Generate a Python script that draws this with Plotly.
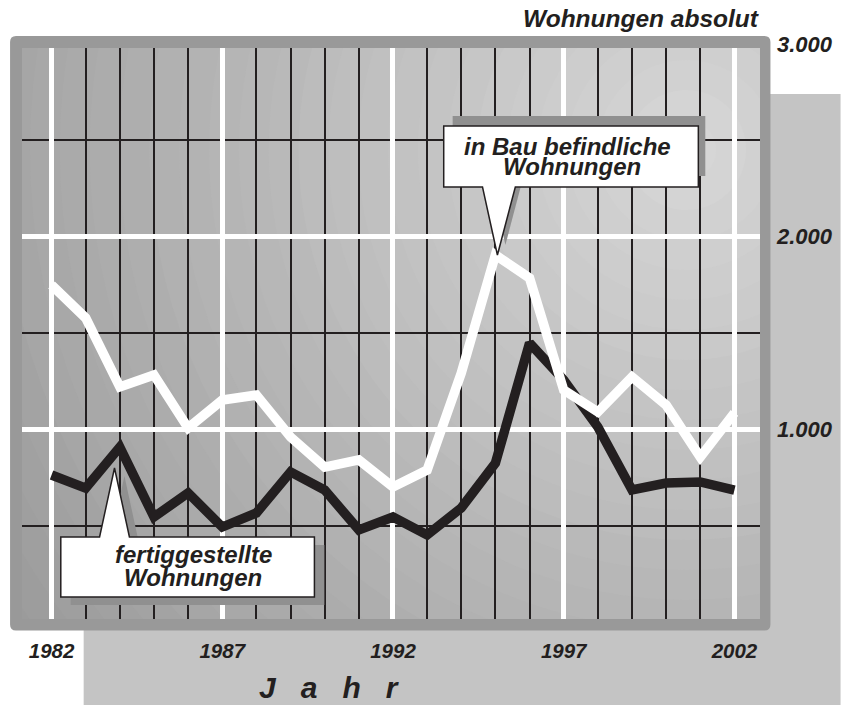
import plotly.graph_objects as go

# ---------------- data ----------------
years = list(range(1982, 2003))
in_bau = [1749, 1578, 1220, 1282, 1007, 1152, 1178, 960, 804, 841, 701,
          789, 1292, 1905, 1785, 1204, 1090, 1272, 1126, 856, 1085]
fertig = [763, 695, 908, 545, 670, 493, 566, 779, 685, 478, 545,
          452, 592, 825, 1448, 1256, 1012, 685, 721, 727, 685]
x_tick_vals = [1982, 1987, 1992, 1997, 2002]
x_tick_text = ["1982", "1987", "1992", "1997", "2002"]
y_tick_vals = [1000, 2000, 3000]
y_tick_text = ["1.000", "2.000", "3.000"]
y_minor_vals = [500, 1500, 2500]
label_bau = ["in Bau befindliche", "Wohnungen"]
label_fertig = ["fertiggestellte", "Wohnungen"]
y_title = "Wohnungen absolut"
x_title = "J\u00a0\u00a0\u00a0a\u00a0\u00a0\u00a0h\u00a0\u00a0\u00a0r"

# ---------------- layout geometry ----------------
W, H = 845, 705
L, R, T, B = 22, 81, 44, 83
PW, PH = W - L - R, H - T - B
X_RANGE = [1981.135, 2002.749]
Y_RANGE = [0, 3000]
FONT = "Liberation Sans, Arial, Helvetica, sans-serif"
INK = "#231f20"


def P(px, py):
    return f"{(px - L) / PW:.5f},{(T + PH - py) / PH:.5f}"


def path(points):
    return "M" + " L".join(P(x, y) for x, y in points) + " Z"


fig = go.Figure()

fig.add_trace(go.Scatter(x=years, y=fertig, mode="lines",
                         line=dict(color=INK, width=9.5), hoverinfo="skip",
                         showlegend=False))
fig.add_trace(go.Scatter(x=years, y=in_bau, mode="lines",
                         line=dict(color="#ffffff", width=9.5), hoverinfo="skip",
                         showlegend=False))

shapes = []
# shadow block behind the frame
shapes.append(dict(type="path", xref="paper", yref="paper", layer="below",
                   path=path([(84, 94), (845, 94), (845, 705), (84, 705)]),
                   fillcolor="#c4c4c4", line=dict(width=0)))

# radial-ish background gradient inside the plot area (decoration)
px_per_x = PW / (X_RANGE[1] - X_RANGE[0])
px_per_y = PH / (Y_RANGE[1] - Y_RANGE[0])
cx = X_RANGE[0] + (690 - L) / px_per_x
cy = Y_RANGE[0] + (T + PH - 150) / px_per_y
for r in range(840, 0, -30):
    g = int(round(max(150, 216 - 0.073 * r)))
    shapes.append(dict(type="circle", xref="x", yref="y", layer="below",
                       x0=cx - r / px_per_x, x1=cx + r / px_per_x,
                       y0=cy - r / px_per_y, y1=cy + r / px_per_y,
                       fillcolor=f"rgb({g},{g},{g})", line=dict(width=0)))

# frame (rounded outer, rectangular inner hole)
frame = (f"M{P(16,36)} L{P(768.5,36)} Q{P(774.5,36)} {P(774.5,42)} "
         f"L{P(774.5,624.5)} Q{P(774.5,630.5)} {P(768.5,630.5)} "
         f"L{P(16,630.5)} Q{P(10,630.5)} {P(10,624.5)} "
         f"L{P(10,42)} Q{P(10,36)} {P(16,36)} Z "
         f"M{P(22,48)} L{P(764,48)} L{P(764,619)} L{P(22,619)} Z")
shapes.append(dict(type="path", xref="paper", yref="paper", layer="above",
                   path=frame, fillcolor="#999999", fillrule="evenodd",
                   line=dict(width=0)))

# callout 1 (in Bau befindliche Wohnungen)
SH = "#909090"
shapes.append(dict(type="path", xref="paper", yref="paper", layer="above",
                   path=path([(455, 116), (709, 116), (709, 176), (455, 176)]),
                   fillcolor=SH, line=dict(width=0)))
shapes.append(dict(type="path", xref="paper", yref="paper", layer="above",
                   path=path([(493, 177), (526, 177), (508, 245)]),
                   fillcolor=SH, line=dict(width=0)))
shapes.append(dict(type="path", xref="paper", yref="paper", layer="above",
                   path=path([(446, 126), (702, 126), (702, 187), (518, 187),
                              (500, 255), (485, 187), (446, 187)]),
                   fillcolor="#ffffff", line=dict(color=INK, width=1.5)))

# callout 2 (fertiggestellte Wohnungen)
shapes.append(dict(type="path", xref="paper", yref="paper", layer="above",
                   path=path([(71, 545), (326, 545), (326, 605), (71, 605)]),
                   fillcolor=SH, line=dict(width=0)))
shapes.append(dict(type="path", xref="paper", yref="paper", layer="above",
                   path=path([(110, 545), (125, 476), (140, 545)]),
                   fillcolor=SH, line=dict(width=0)))
shapes.append(dict(type="path", xref="paper", yref="paper", layer="above",
                   path=path([(61, 537), (100, 537), (115, 468), (130, 537),
                              (316, 537), (316, 597), (61, 597)]),
                   fillcolor="#ffffff", line=dict(color=INK, width=1.5)))


def ann(text, px, py, size, xanchor="center"):
    xp = (px - L) / PW
    yp = (T + PH - py) / PH
    return dict(text=text, x=xp, y=yp, xref="paper", yref="paper",
                xanchor=xanchor, yanchor="middle", showarrow=False,
                font=dict(family=FONT, size=size, color=INK,
                          weight="bold", style="italic"))


annotations = [
    ann(label_bau[0], 570, 146, 24),
    ann(label_bau[1], 575, 166, 24),
    ann(label_fertig[0], 194, 554, 24),
    ann(label_fertig[1], 194, 577, 24),
    ann(y_title, 765, 19, 24.5, xanchor="right"),
    ann(x_title, 331, 687, 30),
]

fig.update_layout(
    width=W, height=H,
    margin=dict(l=L, r=R, t=T, b=B, pad=0),
    paper_bgcolor="#ffffff",
    plot_bgcolor="#a8a8a8",
    shapes=shapes,
    annotations=annotations,
    showlegend=False,
    xaxis=dict(
        range=X_RANGE, tickmode="array", tickvals=x_tick_vals,
        ticktext=x_tick_text, showgrid=True, gridcolor="#ffffff",
        gridwidth=5, zeroline=False, showline=False, ticks="",
        ticklabelstandoff=14,
        tickfont=dict(family=FONT, size=20.5, color=INK, weight="bold",
                      style="italic"),
        minor=dict(tickmode="array", tickvals=years, showgrid=True,
                   gridcolor=INK, gridwidth=1.5, ticks=""),
        fixedrange=True,
    ),
    yaxis=dict(
        range=Y_RANGE, side="right", tickmode="array", tickvals=y_tick_vals,
        ticktext=y_tick_text, showgrid=True, gridcolor="#ffffff",
        gridwidth=5, zeroline=False, showline=False, ticks="",
        ticklabelstandoff=16,
        tickfont=dict(family=FONT, size=22, color=INK, weight="bold",
                      style="italic"),
        minor=dict(tickmode="array", tickvals=y_minor_vals, showgrid=True,
                   gridcolor=INK, gridwidth=1.5, ticks=""),
        fixedrange=True,
    ),
)

fig.write_html("out.html", config={"displayModeBar": False},
               post_script="document.body.style.margin='0';")
